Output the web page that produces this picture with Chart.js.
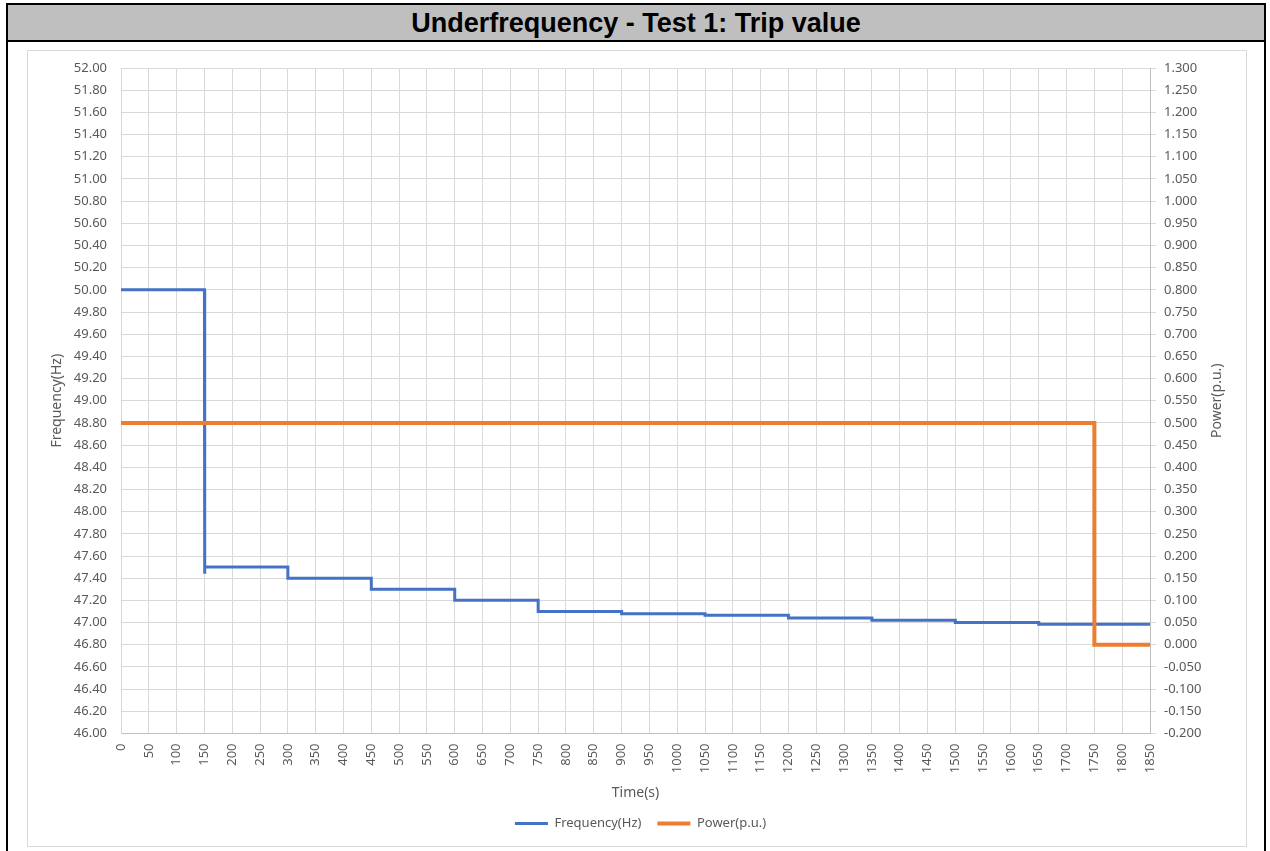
<!DOCTYPE html>
<html lang="en">

<head>
    <meta charset="UTF-8">
    <title>Underfrequency - Test 1: Trip value</title>
    <script src="https://cdn.jsdelivr.net/npm/chart.js@4.4.1/dist/chart.umd.min.js"></script>
    <style>
        body {
            margin: 0;
            background: #ffffff;
        }

        #frame {
            position: absolute;
            left: 6px;
            top: 3px;
            width: 1260px;
            height: 900px;
            box-sizing: border-box;
            border: 2px solid #000000;
        }

        #heading {
            height: 35px;
            background: #bfbfbf;
            border-bottom: 2px solid #000000;
            font: bold 27px "Liberation Sans", Arial, sans-serif;
            line-height: 36px;
            text-align: center;
            color: #000000;
        }

        #box {
            position: absolute;
            left: 19px;
            top: 45px;
            width: 1218px;
            height: 795px;
            border: 1px solid #d9d9d9;
        }
    </style>
</head>

<body>
    <div id="frame">
        <div id="heading">Underfrequency - Test 1: Trip value</div>
        <div id="box">
            <canvas id="chart" width="1218" height="795"></canvas>
        </div>
    </div>

    <script>
        // time (s) and frequency (Hz) corners of the stepped test sequence
        const freqTime = [0, 150, 150, 151, 300, 300, 450, 450, 600, 600, 750, 750, 900, 900,
            1050, 1050, 1200, 1200, 1350, 1350, 1500, 1500, 1650, 1650, 1850];
        const freqHz = [50.00, 50.00, 47.44, 47.50, 47.50, 47.40, 47.40, 47.30, 47.30, 47.20, 47.20, 47.10, 47.10, 47.08,
            47.08, 47.065, 47.065, 47.04, 47.04, 47.02, 47.02, 47.00, 47.00, 46.985, 46.985];

        // output power (p.u.), trips to zero at 1750 s
        const powerTime = [0, 1750, 1750, 1850];
        const powerPu = [0.5, 0.5, 0, 0];

        const seriesNames = ['Frequency(Hz)', 'Power(p.u.)'];
        const axisTitles = { x: 'Time(s)', y: 'Frequency(Hz)', y2: 'Power(p.u.)' };

        const grey = '#595959';
        const gridColor = '#d9d9d9';

        Chart.defaults.font.family = '"Noto Sans", sans-serif';
        Chart.defaults.color = grey;

        const toPoints = (xs, ys) => xs.map((x, i) => ({ x: x, y: ys[i] }));

        // right axis title reads bottom-to-top, so it is drawn by hand
        const rightTitle = {
            id: 'rightTitle',
            afterDraw(chart) {
                const ctx = chart.ctx;
                const area = chart.chartArea;
                const s = chart.scales.y2;
                ctx.save();
                ctx.translate(s.right - 15, (area.top + area.bottom) / 2);
                ctx.rotate(-Math.PI / 2);
                ctx.font = '14px "Noto Sans", sans-serif';
                ctx.fillStyle = grey;
                ctx.textAlign = 'center';
                ctx.textBaseline = 'middle';
                ctx.fillText(axisTitles.y2, 0, 0);
                ctx.restore();
            }
        };

        // keep the plot edges where layout.padding puts them
        const noEdgePadding = axis => {
            axis.paddingTop = 0;
            axis.paddingBottom = 0;
        };

        const ctx = document.getElementById('chart').getContext('2d');
        new Chart(ctx, {
            type: 'line',
            data: {
                datasets: [{
                    label: seriesNames[0],
                    data: toPoints(freqTime, freqHz),
                    yAxisID: 'y',
                    borderColor: '#4472c4',
                    backgroundColor: '#4472c4',
                    borderWidth: 3,
                    pointRadius: 0,
                    order: 2
                }, {
                    label: seriesNames[1],
                    data: toPoints(powerTime, powerPu),
                    yAxisID: 'y2',
                    borderColor: '#ed7d31',
                    backgroundColor: '#ed7d31',
                    borderWidth: 4,
                    pointRadius: 0,
                    order: 1
                }]
            },
            options: {
                responsive: false,
                animation: false,
                layout: {
                    padding: { left: 21, right: 14, top: 17, bottom: 6 }
                },
                plugins: {
                    tooltip: { enabled: false },
                    legend: {
                        position: 'bottom',
                        labels: {
                            usePointStyle: true,
                            pointStyle: 'line',
                            pointStyleWidth: 33,
                            boxHeight: 13,
                            padding: 16,
                            color: grey,
                            font: { size: 13 },
                            sort: (a, b) => a.datasetIndex - b.datasetIndex
                        }
                    }
                },
                scales: {
                    x: {
                        type: 'linear',
                        min: 0,
                        max: 1850,
                        grid: { color: gridColor, drawTicks: false },
                        border: { color: '#bfbfbf' },
                        ticks: {
                            stepSize: 50,
                            autoSkip: false,
                            minRotation: 90,
                            maxRotation: 90,
                            padding: 10,
                            color: grey,
                            font: { size: 13 },
                            callback: v => String(v)
                        },
                        title: {
                            display: true,
                            text: axisTitles.x,
                            color: grey,
                            font: { size: 14 },
                            padding: { top: 1, bottom: 0 }
                        }
                    },
                    y: {
                        position: 'left',
                        min: 46,
                        max: 52,
                        grid: { color: gridColor, drawTicks: false },
                        border: { color: gridColor },
                        ticks: {
                            stepSize: 0.2,
                            padding: 14,
                            color: grey,
                            font: { size: 13 },
                            callback: v => v.toFixed(2)
                        },
                        title: {
                            display: true,
                            text: axisTitles.y,
                            color: grey,
                            font: { size: 14 },
                            padding: { top: 0, bottom: 4 }
                        },
                        afterFit: axis => {
                            axis.width = 72;
                            noEdgePadding(axis);
                        }
                    },
                    y2: {
                        position: 'right',
                        min: -0.2,
                        max: 1.3,
                        grid: { color: gridColor, drawOnChartArea: false, tickLength: 6 },
                        border: { color: '#bfbfbf' },
                        ticks: {
                            stepSize: 0.05,
                            padding: 8,
                            color: grey,
                            font: { size: 13 },
                            callback: v => v.toFixed(3)
                        },
                        afterFit: axis => {
                            axis.width = 82;
                            noEdgePadding(axis);
                        }
                    }
                }
            },
            plugins: [rightTitle]
        });
    </script>

</body>

</html>
